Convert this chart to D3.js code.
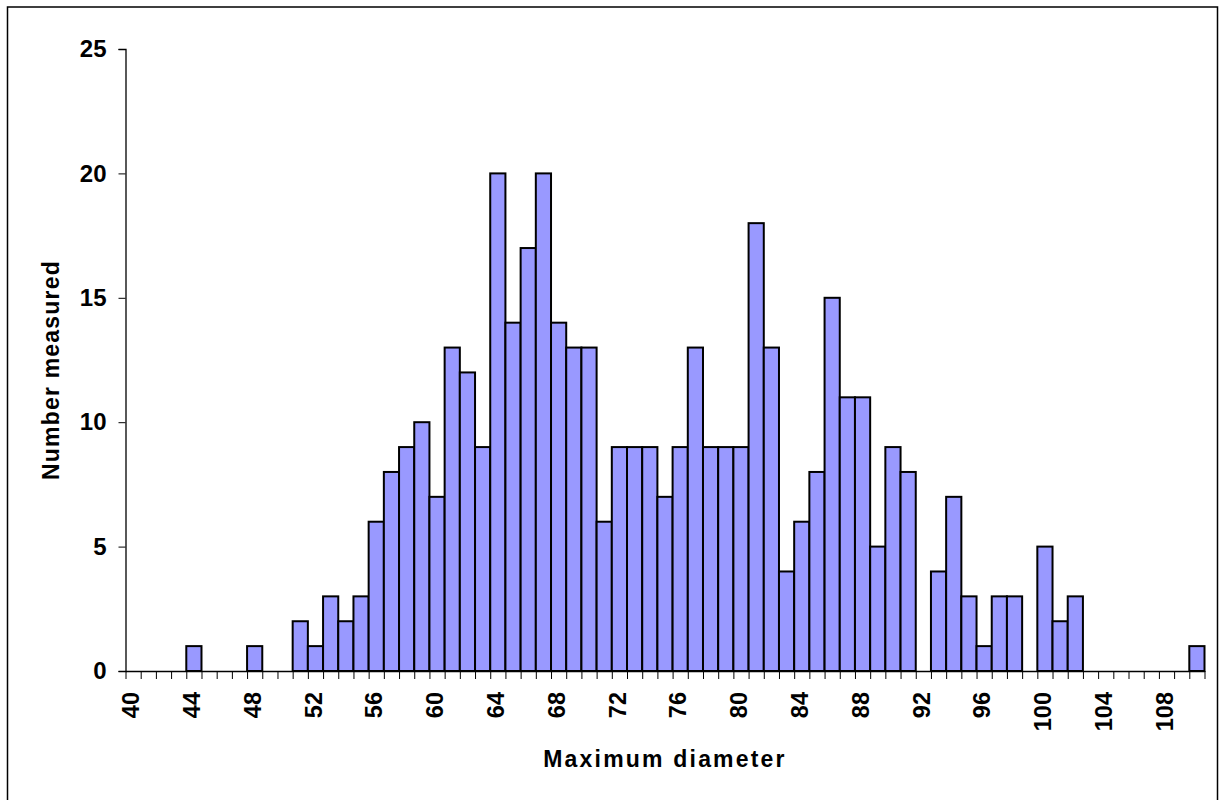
<!DOCTYPE html>
<html>
<head>
<meta charset="utf-8">
<script src="https://cdn.jsdelivr.net/npm/d3@7/dist/d3.min.js"></script>
<style>
  body { margin: 0; background: #fff; }
  svg text { font-family: "Liberation Sans", Arial, sans-serif; font-weight: bold; fill: #000; }
</style>
</head>
<body>
<div id="chart"></div>
<script>
// diameter classes 40..110
const diameters = d3.range(40, 111);
// counts per class
const counts = [
  0, 0, 0, 0, 1, 0, 0, 0, 1, 0,        // 40-49
  0, 2, 1, 3, 2, 3, 6, 8, 9, 10,       // 50-59
  7, 13, 12, 9, 20, 14, 17, 20, 14, 13, // 60-69
  13, 6, 9, 9, 9, 7, 9, 13, 9, 9,      // 70-79
  9, 18, 13, 4, 6, 8, 15, 11, 11, 5,   // 80-89
  9, 8, 0, 4, 7, 3, 1, 3, 3, 0,        // 90-99
  5, 2, 3, 0, 0, 0, 0, 0, 0, 0,        // 100-109
  1                                    // 110
];
const yTicks = [0, 5, 10, 15, 20, 25];
const xLabelEvery = 4;

const width = 1223, height = 800;
const margin = { top: 49, right: 18.5, bottom: 129, left: 125.5 };

const svg = d3.select("#chart").append("svg")
  .attr("width", width)
  .attr("height", height);

// outer frame
svg.append("rect")
  .attr("x", 7.5).attr("y", 7)
  .attr("width", 1210).attr("height", 810)
  .attr("fill", "none")
  .attr("stroke", "#000")
  .attr("stroke-width", 1.5);

const x = d3.scaleBand()
  .domain(diameters)
  .range([margin.left, width - margin.right])
  .paddingInner(0).paddingOuter(0);

const y = d3.scaleLinear()
  .domain([0, 25])
  .range([height - margin.bottom, margin.top]);

// boundary ticks between categories
const xEdge = d3.scaleLinear()
  .domain([0, diameters.length])
  .range(x.range());

const data = diameters.map((d, i) => ({ d: d, v: counts[i] }));

// bars
svg.append("g")
  .selectAll("rect")
  .data(data.filter(e => e.v > 0))
  .join("rect")
  .attr("x", e => x(e.d))
  .attr("y", e => y(e.v))
  .attr("width", x.bandwidth())
  .attr("height", e => y(0) - y(e.v))
  .attr("fill", "#9999ff")
  .attr("stroke", "#000")
  .attr("stroke-width", 2);

// y axis
const yAxis = svg.append("g")
  .attr("transform", `translate(${margin.left},0)`)
  .call(d3.axisLeft(y).tickValues(yTicks).tickSize(7).tickPadding(12));
yAxis.selectAll("text").style("font-size", "24px");
yAxis.select(".domain").attr("stroke-width", 1.3);

// x axis: tick marks at category edges
const xTickAxis = svg.append("g")
  .attr("transform", `translate(0,${y(0)})`)
  .call(d3.axisBottom(xEdge)
    .tickValues(d3.range(diameters.length + 1))
    .tickFormat("")
    .tickSize(8)
    .tickSizeOuter(0));
xTickAxis.select(".domain").attr("stroke-width", 1.3);

// x axis labels, every 4th class
const xLabelAxis = svg.append("g")
  .attr("transform", `translate(0,${y(0)})`)
  .call(d3.axisBottom(x)
    .tickValues(diameters.filter(d => (d - 40) % xLabelEvery === 0))
    .tickSize(0));
xLabelAxis.select(".domain").remove();
xLabelAxis.selectAll("text")
  .style("font-size", "23.5px")
  .attr("text-anchor", "end")
  .attr("dominant-baseline", "middle")
  .attr("dy", null)
  .attr("y", 0)
  .attr("transform", "translate(0,21) rotate(-90)");

// axis titles
svg.append("text")
  .attr("x", (margin.left + width - margin.right) / 2)
  .attr("y", 767)
  .attr("text-anchor", "middle")
  .style("font-size", "23px")
  .style("letter-spacing", "2.2px")
  .text("Maximum diameter");

svg.append("text")
  .attr("transform", `translate(59,370) rotate(-90)`)
  .attr("text-anchor", "middle")
  .style("font-size", "23px")
  .style("letter-spacing", "1.2px")
  .text("Number measured");
</script>
</body>
</html>
